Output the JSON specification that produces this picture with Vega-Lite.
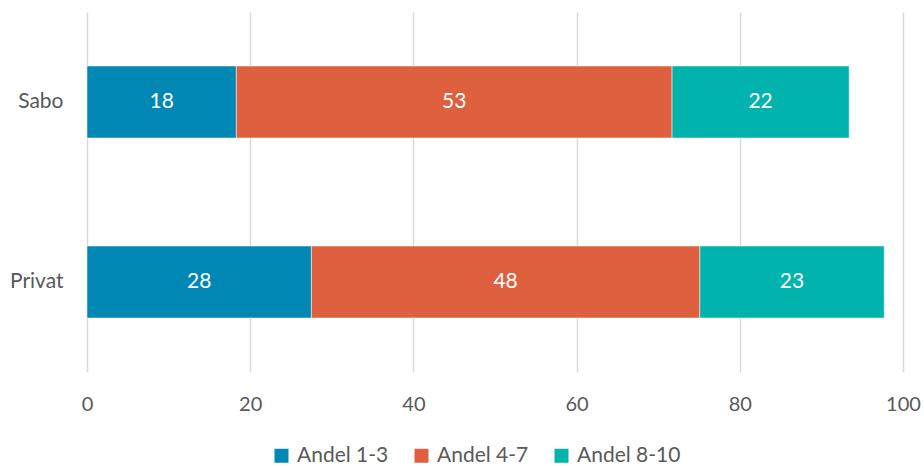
{
  "$schema": "https://vega.github.io/schema/vega-lite/v6.json",
  "width": 816,
  "height": 360,
  "autosize": {"type": "none"},
  "padding": {"left": 87, "top": 12, "right": 21, "bottom": 94},
  "background": "white",
  "config": {
    "view": {"stroke": null},
    "font": "Lato"
  },
  "data": {
    "values": [
      {"kategori": "Sabo", "serie": "Andel 1-3", "ordning": 1, "verdi": 18.3},
      {"kategori": "Sabo", "serie": "Andel 4-7", "ordning": 2, "verdi": 53.4},
      {"kategori": "Sabo", "serie": "Andel 8-10", "ordning": 3, "verdi": 21.7},
      {"kategori": "Privat", "serie": "Andel 1-3", "ordning": 1, "verdi": 27.5},
      {"kategori": "Privat", "serie": "Andel 4-7", "ordning": 2, "verdi": 47.6},
      {"kategori": "Privat", "serie": "Andel 8-10", "ordning": 3, "verdi": 22.6}
    ]
  },
  "transform": [
    {"stack": "verdi", "groupby": ["kategori"], "sort": [{"field": "ordning"}], "as": ["v0", "v1"]},
    {"calculate": "(datum.v0 + datum.v1) / 2", "as": "midt"}
  ],
  "encoding": {
    "y": {
      "field": "kategori", "type": "nominal", "sort": ["Sabo", "Privat"],
      "scale": {"paddingInner": 0.6, "paddingOuter": 0.3},
      "axis": {"title": null, "ticks": false, "domain": false, "labelFontSize": 21, "labelColor": "#595959", "labelPadding": 24, "labelFont": "Lato"}
    }
  },
  "layer": [
    {
      "mark": {"type": "bar", "stroke": "white", "strokeWidth": 0.5},
      "encoding": {
        "x": {
          "field": "v0", "type": "quantitative",
          "scale": {"domain": [0, 100], "nice": false},
          "axis": {"title": null, "values": [0, 20, 40, 60, 80, 100], "ticks": false, "domain": false, "grid": true, "gridColor": "#d9d9d9", "gridWidth": 1.5, "labelFontSize": 20, "labelColor": "#595959", "labelPadding": 22, "labelFont": "Lato", "labelFlush": false, "labelOverlap": false}
        },
        "x2": {"field": "v1"},
        "color": {
          "field": "serie", "type": "nominal",
          "scale": {"domain": ["Andel 1-3", "Andel 4-7", "Andel 8-10"], "range": ["#0087B4", "#DF603F", "#00B3AD"]},
          "legend": {"title": null, "orient": "none", "legendX": 184, "legendY": 433, "direction": "horizontal", "symbolType": "square", "symbolSize": 196, "symbolStrokeWidth": 0, "labelFontSize": 21, "labelColor": "#595959", "labelFont": "Lato", "labelOffset": 5, "columnPadding": 22, "symbolOpacity": 1}
        }
      }
    },
    {
      "mark": {"type": "text", "color": "white", "fontSize": 21, "font": "Lato"},
      "encoding": {
        "x": {"field": "midt", "type": "quantitative"},
        "text": {"field": "verdi", "type": "quantitative", "format": ".0f"}
      }
    }
  ]
}
